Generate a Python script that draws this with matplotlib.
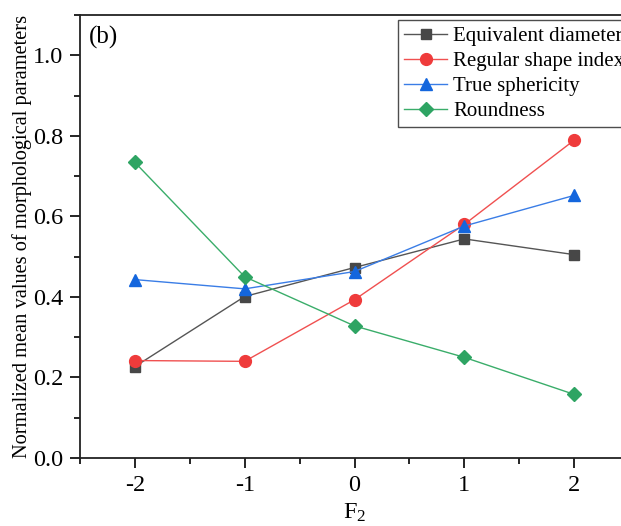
import matplotlib
matplotlib.use("Agg")
import matplotlib.pyplot as plt
from matplotlib.ticker import MultipleLocator

plt.rcParams['font.family'] = ['Liberation Serif', 'DejaVu Serif']
plt.rcParams['mathtext.fontset'] = 'custom'
plt.rcParams['mathtext.rm'] = 'Liberation Serif'
plt.rcParams['mathtext.it'] = 'Liberation Serif:italic'

f2_levels = [-2, -1, 0, 1, 2]
equivalent_diameter = [0.227, 0.401, 0.473, 0.544, 0.505]
regular_shape_index = [0.242, 0.240, 0.393, 0.580, 0.789]
true_sphericity = [0.443, 0.420, 0.463, 0.576, 0.652]
roundness = [0.734, 0.450, 0.328, 0.250, 0.158]

series = [
    ("Equivalent diameter", equivalent_diameter, "#555555", "#474747", "s", 7.5),
    ("Regular shape index", regular_shape_index, "#f05050", "#ef3b3b", "o", 8.5),
    ("True sphericity", true_sphericity, "#3a7de6", "#1466dd", "^", 8.5),
    ("Roundness", roundness, "#3aad6a", "#2ea463", "D", 7),
]

fig = plt.figure(figsize=(6.21, 5.26), dpi=100)
ax = fig.add_axes([80 / 621, 68 / 526, 549 / 621, 443 / 526])

for name, vals, lc, mc, mk, ms in series:
    ax.plot(f2_levels, vals, color=lc, lw=1.0, marker=mk, markersize=ms,
            markerfacecolor=mc, markeredgecolor=mc, label=name)

ax.set_xlim(-2.5, 2.5)
ax.set_ylim(0, 1.1)
ax.xaxis.set_minor_locator(MultipleLocator(0.5))
ax.yaxis.set_minor_locator(MultipleLocator(0.1))
ax.set_xticks(f2_levels)
ax.set_xticklabels(["-2", "-1", "0", "1", "2"])
ax.set_yticks([0.0, 0.2, 0.4, 0.6, 0.8, 1.0])
ax.set_yticklabels(["0.0", "0.2", "0.4", "0.6", "0.8", "1.0"])
ax.tick_params(which='major', direction='out', length=7, width=1.2, labelsize=17.5, pad=5)
ax.tick_params(which='minor', direction='out', length=4, width=1.2)
for sp in ax.spines.values():
    sp.set_linewidth(1.3)
    sp.set_color("#222222")

ax.set_xlabel("F$_2$", fontsize=17.5, labelpad=4)
ax.set_ylabel("Normalized mean values of morphological parameters", fontsize=14.7, labelpad=1)
ax.text(0.017, 0.975, "(b)", transform=ax.transAxes, fontsize=18, va='top', ha='left')

leg = ax.legend(loc='upper left', bbox_to_anchor=(398 / 621, 1 - 20 / 526),
                bbox_transform=fig.transFigure, fontsize=15.0,
                frameon=True, fancybox=False, edgecolor='#222222',
                handlelength=2.05, handletextpad=0.3, labelspacing=0.26,
                borderpad=0.3, borderaxespad=0.0)
leg.get_frame().set_linewidth(1.0)

fig.savefig("out.png", dpi=100)
